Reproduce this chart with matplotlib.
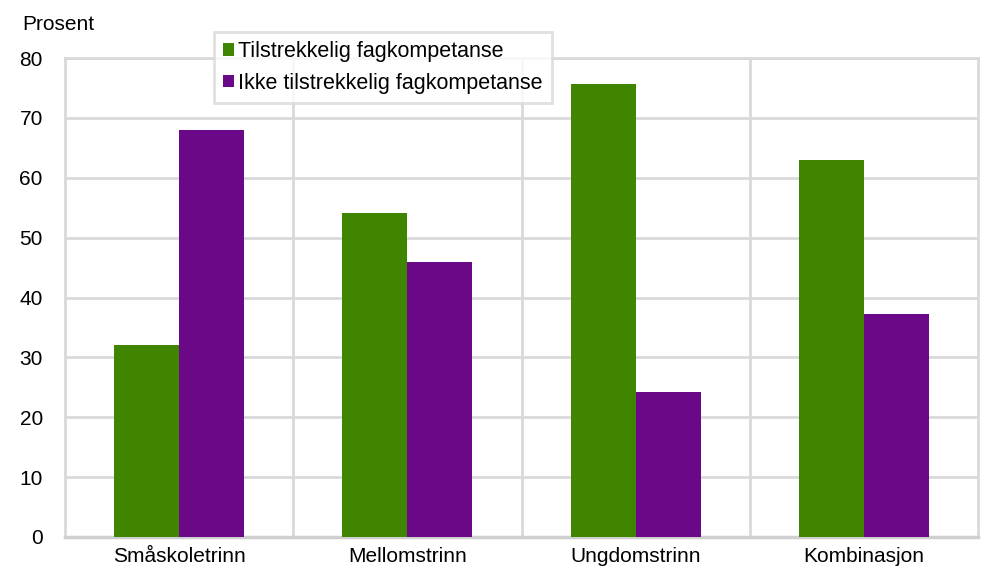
import numpy as np
from matplotlib import pyplot as plt

categories = ['Småskoletrinn', 'Mellomstrinn', 'Ungdomstrinn', 'Kombinasjon']
tilstrekkelig = [32, 54.1, 75.7, 62.9]
ikke_tilstrekkelig = [68, 45.9, 24.3, 37.2]
series_labels = ['Tilstrekkelig fagkompetanse', 'Ikke tilstrekkelig fagkompetanse']
yticks = [0, 10, 20, 30, 40, 50, 60, 70, 80]

green = '#3f8500'
purple = '#6a0888'
grid = '#d9d9d9'

plt.rcParams['font.family'] = ['Liberation Sans', 'DejaVu Sans']

fig = plt.figure(figsize=(9.83, 5.75), dpi=100)
# plot area in pixels: left 65, right 978, top 58, bottom 537
ax = fig.add_axes([65 / 983, 1 - 537 / 575, (978 - 65) / 983, (537 - 58) / 575])

x = np.arange(len(categories))
w = 0.285
ax.bar(x - w / 2, tilstrekkelig, w, color=green, label=series_labels[0], zorder=3)
ax.bar(x + w / 2, ikke_tilstrekkelig, w, color=purple, label=series_labels[1], zorder=3)

ax.set_xlim(-0.5, len(categories) - 0.5)
ax.set_ylim(0, 80)
ax.set_yticks(yticks)
ax.set_xticks(x)
ax.set_xticklabels(categories)
ax.tick_params(axis='both', length=0, labelsize=15, colors='black')
ax.tick_params(axis='x', pad=7)
ax.tick_params(axis='y', pad=16)

for y in yticks[1:]:
    ax.axhline(y, color=grid, lw=2, zorder=1)
for xv in x[:-1] + 0.5:
    ax.axvline(xv, color=grid, lw=2, zorder=1)
for s in ax.spines.values():
    s.set_color(grid)
    s.set_linewidth(2)
ax.spines['bottom'].set_color('#cfcfcf')
ax.spines['bottom'].set_linewidth(2.5)

fig.text(22 / 983, 1 - 25 / 575, 'Prosent', fontsize=15, va='center', ha='left')

leg = ax.legend(loc='upper left', bbox_to_anchor=(149 / 913, 1 + 26 / 479),
                fontsize=15.5, frameon=True, fancybox=False, handlelength=0.5,
                handleheight=0.5, handletextpad=0.2, borderpad=0.42,
                labelspacing=0.5, borderaxespad=0)
leg.get_frame().set_edgecolor(grid)
leg.get_frame().set_linewidth(2)
leg.set_zorder(5)

fig.savefig('out.png', dpi=100)
